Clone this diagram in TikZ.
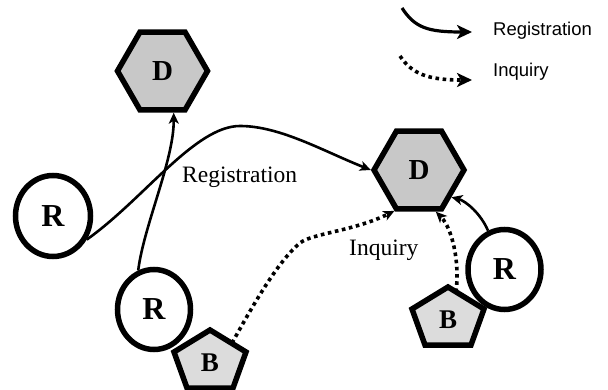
\documentclass[tikz,border=0pt]{standalone}
\usepackage{fontspec}
\setmainfont{Liberation Serif}
\newfontfamily\legendfont{Liberation Sans}
\usetikzlibrary{shapes.geometric,arrows.meta,calc}
\definecolor{hexfill}{HTML}{C8C8C8}
\definecolor{pentfill}{HTML}{DCDCDC}
\begin{document}
\begin{tikzpicture}[x=1pt,y=-1pt,
 hexnode/.style={regular polygon, regular polygon sides=6, minimum size=90pt, draw, line width=5.5pt, fill=hexfill, inner sep=0pt, font=\fontsize{29}{32}\selectfont\bfseries},
 rnode/.style={ellipse, draw, line width=5.5pt, fill=white, minimum width=73pt, minimum height=80pt, inner sep=0pt, font=\fontsize{32}{35}\selectfont\bfseries},
 pentline/.style={draw, line width=5.5pt, fill=pentfill, line join=miter},
 btext/.style={inner sep=0pt, font=\fontsize{27}{30}\selectfont\bfseries},
 reg/.style={line width=2.6pt, -{Stealth[length=11pt,width=10pt,inset=3pt]}},
 inq/.style={line width=3.6pt, dash pattern=on 3.6pt off 3.6pt, -{Stealth[length=11pt,width=10pt,inset=3pt]}},
 legreg/.style={line width=3.2pt, -{Stealth[length=15pt,width=14pt,inset=4pt]}},
 leginq/.style={line width=3.6pt, dash pattern=on 3.6pt off 3.6pt, -{Stealth[length=15pt,width=14pt,inset=4pt]}},
 lbl/.style={font=\fontsize{23.5}{28}\selectfont, inner sep=0pt, anchor=base west},
 leg/.style={font=\legendfont\fontsize{18.5}{22}\selectfont, inner sep=0pt, anchor=base west}]
\useasboundingbox (0,0) rectangle (608,390);

% hexagons
\node[hexnode] (d1) at (162.5,71) {D};
\node[hexnode] (d2) at (419,170) {D};

% ellipses
\node[rnode, minimum width=75pt, minimum height=81pt] (r1) at (53,216) {R};
\node[rnode] (r2) at (154,309.5) {R};
\node[rnode] (r3) at (504.5,269.5) {R};

% pentagons
\coordinate (b1c) at (210,363);
\draw[pentline] ($(b1c)+(0,-33)$) -- ($(b1c)+(36,-11)$) -- ($(b1c)+(23,25)$) -- ($(b1c)+(-23,25)$) -- ($(b1c)+(-36,-11)$) -- cycle;
\node[btext] (b1) at (b1c) {B};
\coordinate (b2c) at (448,320);
\draw[pentline] ($(b2c)+(0,-33)$) -- ($(b2c)+(36,-11)$) -- ($(b2c)+(23,25)$) -- ($(b2c)+(-23,25)$) -- ($(b2c)+(-36,-11)$) -- cycle;
\node[btext] (b2) at (b2c) {B};

% connectors
\draw[reg] (r1.-35) .. controls (144,199) and (195,126) .. (240,126) .. controls (280,126) and (323,151) .. (d2.west);
\draw[reg] (r2.112) .. controls (144,225) and (174,160) .. (d1.-75);
\draw[inq] ($(b1)+(22,-20)$) .. controls (251.6,308) and (277,262) .. (300,243) .. controls (311.5,233.5) and (354,231) .. (d2.-121);
\draw[inq] ($(b2)+(8,-28)$) .. controls (460,262) and (452,228) .. (d2.-68);
\draw[reg] (r3.113) .. controls (481,214) and (466,201) .. (d2.-40);

% labels
\node[lbl] (lreg) at (182,183) {Registration};
\node[lbl] (linq) at (349,255) {Inquiry};

% legend
\coordinate (l1a) at (402,8);
\coordinate (l1b) at (472,32);
\draw[legreg] (l1a) .. controls (415,28) and (428,32) .. (l1b);
\coordinate (l2a) at (400,56);
\coordinate (l2b) at (472,80);
\draw[leginq] (l2a) .. controls (412,74) and (428,80) .. (l2b);
\node[leg] (t1) at (493,36) {Registration};
\node[leg] (t2) at (493,77) {Inquiry};
\end{tikzpicture}
\end{document}
